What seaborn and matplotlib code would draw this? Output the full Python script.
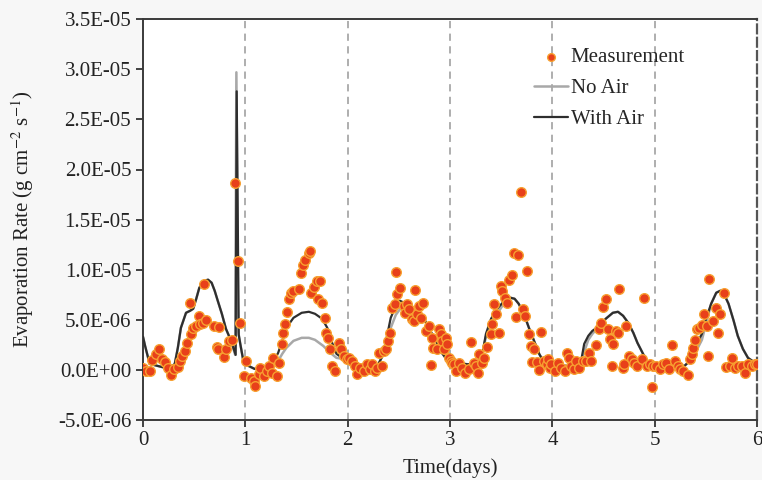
import numpy as np
import pandas as pd
import seaborn as sns
import matplotlib.pyplot as plt
from matplotlib.ticker import FuncFormatter

# values in 1E-06 g cm-2 s-1, time in days
meas_day = [0.0, 0.03, 0.065, 0.09, 0.13, 0.16, 0.19, 0.21, 0.24, 0.27, 0.30, 0.34, 0.36, 0.38, 0.41, 0.43,
            0.46, 0.47, 0.49, 0.52, 0.55, 0.56, 0.59, 0.60, 0.62, 0.69, 0.72, 0.73, 0.74, 0.79, 0.81, 0.84,
            0.87, 0.90, 0.93, 0.945,
            0.99, 1.01, 1.05, 1.08, 1.09, 1.13, 1.14, 1.18, 1.21, 1.23, 1.26, 1.27, 1.31, 1.33, 1.36, 1.37,
            1.39, 1.41, 1.43, 1.45, 1.47, 1.52, 1.54, 1.56, 1.58, 1.62, 1.63, 1.64, 1.67, 1.70, 1.73, 1.71,
            1.75, 1.78, 1.79, 1.81, 1.83, 1.85, 1.88, 1.91, 1.93, 1.96, 1.99,
            2.01, 2.04, 2.07, 2.09, 2.12, 2.16, 2.19, 2.22, 2.24, 2.27, 2.29, 2.31, 2.33, 2.35, 2.37, 2.39,
            2.41, 2.43, 2.46, 2.47, 2.48, 2.51, 2.55, 2.56, 2.58, 2.60, 2.63, 2.65, 2.66, 2.68, 2.70, 2.72,
            2.74, 2.76, 2.79, 2.81, 2.82, 2.83, 2.87, 2.89, 2.91, 2.92, 2.94, 2.96, 2.97, 2.99,
            3.01, 3.02, 3.04, 3.06, 3.09, 3.12, 3.15, 3.18, 3.20, 3.23, 3.25, 3.27, 3.28, 3.31, 3.33, 3.36,
            3.40, 3.41, 3.43, 3.45, 3.48, 3.50, 3.51, 3.54, 3.56, 3.58, 3.60, 3.62, 3.64, 3.66, 3.69, 3.71,
            3.73, 3.75, 3.77, 3.79, 3.80, 3.82, 3.85, 3.87, 3.89, 3.92, 3.95, 3.96, 3.98, 3.99,
            4.02, 4.05, 4.08, 4.12, 4.14, 4.16, 4.18, 4.21, 4.23, 4.26, 4.30, 4.33, 4.36, 4.38, 4.43, 4.45,
            4.47, 4.49, 4.52, 4.54, 4.56, 4.58, 4.59, 4.62, 4.64, 4.65, 4.69, 4.70, 4.72, 4.75, 4.78, 4.80,
            4.83, 4.87, 4.89, 4.92, 4.95, 4.97, 4.98,
            5.01, 5.05, 5.08, 5.11, 5.14, 5.17, 5.20, 5.23, 5.25, 5.28, 5.32, 5.34, 5.36, 5.37, 5.39, 5.41,
            5.43, 5.46, 5.48, 5.51, 5.52, 5.53, 5.57, 5.60, 5.62, 5.64, 5.68, 5.70, 5.73, 5.75, 5.78, 5.81,
            5.85, 5.88, 5.91, 5.95, 5.98, 6.0]
meas_val = [0.2, -0.1, -0.1, 1.0, 1.6, 2.1, 1.1, 0.8, 0.2, -0.5, 0.1, 0.3, 0.9, 1.4, 1.9, 2.7,
            6.7, 3.6, 4.2, 4.4, 5.4, 4.6, 4.7, 8.6, 5.0, 4.4, 2.3, 2.1, 4.3, 1.3, 2.1, 2.9,
            3.0, 18.7, 10.9, 4.7,
            -0.6, 0.9, -0.8, -1.1, -1.6, -0.4, 0.2, -0.6, -0.1, 0.4, -0.3, 1.2, -0.6, 0.7, 2.6, 3.7,
            4.6, 5.8, 7.1, 7.7, 7.9, 8.1, 9.7, 10.5, 11.0, 11.7, 11.9, 7.7, 8.3, 8.9, 8.9, 7.1,
            6.7, 5.2, 3.7, 3.2, 2.1, 0.4, -0.1, 2.7, 2.1, 1.4, 1.1,
            1.2, 0.9, 0.4, -0.4, 0.2, -0.1, 0.6, 0.1, 0.6, -0.1, 0.2, 1.7, 0.4, 1.9, 2.1, 2.9,
            3.7, 6.2, 6.6, 9.8, 7.6, 8.2, 6.4, 5.7, 6.6, 6.1, 5.1, 4.9, 8.0, 5.6, 6.4, 5.2,
            6.7, 3.9, 4.4, 0.5, 3.2, 2.2, 2.1, 4.1, 3.6, 2.9, 2.1, 3.2, 2.6, 1.2,
            0.9, 0.7, 0.6, -0.1, 0.7, 0.2, -0.3, 0.1, 2.8, 0.7, 0.4, -0.3, 1.6, 0.7, 1.2, 2.3,
            3.6, 4.6, 6.6, 5.6, 3.7, 8.4, 7.9, 7.2, 6.7, 9.0, 9.5, 11.7, 5.3, 11.5, 17.8, 6.1,
            5.4, 9.9, 3.6, 2.4, 0.8, 2.1, 0.8, 0.0, 3.8, 0.9, 0.6, 1.1, 0.2, 0.6,
            -0.1, 0.7, 0.2, -0.1, 1.7, 1.2, 0.4, 0.1, 0.9, 0.2, 0.9, 0.9, 1.7, 0.9, 2.5, 4.1,
            4.7, 6.3, 7.1, 4.1, 3.1, 0.4, 2.6, 3.9, 3.7, 8.1, 0.2, 0.6, 4.4, 1.4, 1.1, 0.7,
            0.4, 1.1, 7.2, 0.4, 0.6, -1.7, 0.4,
            0.4, 0.1, 0.6, 0.7, 0.1, 2.5, 0.9, 0.4, 0.1, -0.1, -0.5, 1.1, 1.6, 2.2, 3.0, 4.1,
            4.2, 4.5, 5.6, 4.4, 1.4, 9.1, 4.9, 6.2, 3.7, 5.6, 7.7, 0.3, 0.4, 1.2, 0.2, 0.4,
            0.4, -0.3, 0.6, 0.4, 0.6, 0.6]

air_day = [0.0, 0.02, 0.065, 0.18, 0.26, 0.31, 0.34, 0.37, 0.42, 0.46, 0.49, 0.52, 0.55, 0.60, 0.635,
           0.67, 0.70, 0.73, 0.77, 0.81, 0.86, 0.905, 0.915, 0.935, 0.95, 0.98, 1.03, 1.09, 1.18, 1.27,
           1.32, 1.36, 1.40, 1.47, 1.55, 1.62, 1.68, 1.75, 1.80, 1.84, 1.89, 1.96, 2.04, 2.14, 2.24,
           2.30, 2.35, 2.38, 2.42, 2.47, 2.51, 2.55, 2.60, 2.65, 2.69, 2.74, 2.79, 2.86, 2.92, 2.99,
           3.04, 3.14, 3.23, 3.28, 3.32, 3.35, 3.40, 3.46, 3.53, 3.59, 3.63, 3.67, 3.72, 3.77, 3.82,
           3.87, 3.92, 3.98, 4.04, 4.13, 4.23, 4.28, 4.31, 4.35, 4.39, 4.46, 4.52, 4.59, 4.64, 4.69,
           4.74, 4.79, 4.83, 4.88, 4.92, 4.98, 5.06, 5.20, 5.29, 5.34, 5.39, 5.46, 5.50, 5.55, 5.60,
           5.64, 5.67, 5.72, 5.77, 5.81, 5.86, 5.91, 5.98, 6.0]
air_val = [3.3, 2.4, 0.6, 0.3, 0.1, 0.6, 2.2, 4.2, 5.7, 5.9, 6.1, 7.1, 8.2, 8.9, 9.0,
           8.7, 7.9, 6.9, 5.6, 4.1, 2.9, 1.5, 27.8, 3.5, 2.6, 0.9, 0.4, 0.1, 0.2, 0.7,
           1.7, 2.9, 4.2, 5.2, 5.7, 5.8, 5.6, 5.1, 4.2, 2.9, 1.6, 1.1, 0.9, 0.4, 0.2,
           0.6, 1.6, 3.2, 5.2, 6.4, 6.9, 6.7, 6.2, 5.7, 5.7, 5.2, 4.2, 2.9, 1.7, 0.7,
           0.7, 0.6, 0.5, 0.9, 1.9, 3.6, 5.1, 6.1, 6.9, 7.2, 7.1, 6.6, 5.6, 4.2, 2.9,
           1.6, 0.7, 0.6, 0.6, 0.4, 0.4, 0.9, 2.6, 3.4, 3.9, 4.4, 5.1, 5.7, 5.8, 5.4,
           4.7, 3.7, 2.7, 1.7, 0.9, 0.6, 0.4, 0.4, 0.4, 0.9, 2.2, 3.6, 5.1, 6.6, 7.7,
           7.9, 7.7, 6.6, 4.9, 3.4, 2.1, 1.2, 0.7, 0.6]

noair_day = [0.0, 0.02, 0.065, 0.18, 0.26, 0.31, 0.34, 0.37, 0.42, 0.46, 0.49, 0.52, 0.55, 0.60, 0.635,
             0.67, 0.70, 0.73, 0.77, 0.81, 0.86, 0.90, 0.912, 0.93, 0.95, 0.98, 1.03, 1.09, 1.18, 1.27,
             1.32, 1.36, 1.40, 1.47, 1.55, 1.62, 1.68, 1.76, 1.83, 1.89, 1.96, 2.04, 2.14, 2.24,
             2.30, 2.35, 2.38, 2.42, 2.47, 2.52, 2.55, 2.60, 2.65, 2.69, 2.74, 2.79, 2.86, 2.92, 2.99,
             3.04, 3.14, 3.23, 3.28, 3.32, 3.35, 3.40, 3.46, 3.53, 3.59, 3.63, 3.67, 3.72, 3.77, 3.82,
             3.87, 3.92, 3.98, 4.04, 4.13, 4.23, 4.28, 4.31, 4.35, 4.39, 4.46, 4.52, 4.59, 4.64, 4.69,
             4.74, 4.79, 4.83, 4.88, 4.92, 4.98, 5.06, 5.20, 5.29, 5.34, 5.39, 5.46, 5.50, 5.55, 5.60,
             5.64, 5.67, 5.72, 5.77, 5.81, 5.86, 5.91, 5.98, 6.0]
noair_val = [3.3, 2.4, 0.6, 0.3, 0.1, 0.6, 2.2, 4.2, 5.7, 5.9, 6.1, 7.1, 8.2, 8.9, 9.0,
             8.7, 7.9, 6.9, 5.6, 4.1, 2.9, 1.5, 29.7, 3.8, 2.6, 0.9, 0.4, 0.1, 0.2, 0.7,
             0.9, 1.6, 2.2, 2.9, 3.2, 3.2, 3.0, 2.4, 1.7, 1.2, 1.1, 0.9, 0.4, 0.2,
             0.6, 1.6, 3.0, 4.2, 5.5, 6.2, 6.3, 6.0, 5.7, 5.7, 5.2, 4.2, 2.9, 1.7, 0.7,
             0.7, 0.6, 0.5, 0.9, 1.9, 3.3, 4.3, 5.6, 6.7, 7.2, 7.1, 6.6, 5.6, 4.2, 2.9,
             1.6, 0.7, 0.6, 0.6, 0.4, 0.4, 0.9, 1.8, 3.0, 3.6, 4.4, 5.1, 5.7, 5.8, 5.4,
             4.7, 3.7, 2.7, 1.7, 0.9, 0.6, 0.4, 0.4, 0.4, 0.9, 1.6, 3.0, 4.6, 6.6, 7.7,
             7.9, 7.7, 6.6, 4.9, 3.4, 2.1, 1.2, 0.7, 0.6]

scale = 1e-6
meas = pd.DataFrame({'day': meas_day, 'rate': np.array(meas_val) * scale})
air = pd.DataFrame({'day': air_day, 'rate': np.array(air_val) * scale})
noair = pd.DataFrame({'day': noair_day, 'rate': np.array(noair_val) * scale})

sns.set_style('white')
plt.rcParams['font.family'] = ['Liberation Serif', 'DejaVu Serif']
plt.rcParams['mathtext.fontset'] = 'stix'

fig = plt.figure(figsize=(7.62, 4.8), dpi=100, facecolor='#f7f7f7')
ax = fig.add_axes([0.1877, 0.125, 0.806, 0.835])
ax.set_facecolor('white')

# dashed day separators
for d in range(1, 6):
    ax.axvline(d, color='#a8a8a8', lw=1.3, ls=(0, (4, 3)), zorder=1)

sns.lineplot(data=noair, x='day', y='rate', ax=ax, color='#a8a8a8', lw=1.8,
             estimator=None, sort=False, label='No Air', zorder=2)
sns.lineplot(data=air, x='day', y='rate', ax=ax, color='#2e2e2e', lw=1.6,
             estimator=None, sort=False, label='With Air', zorder=3)
sns.scatterplot(data=meas, x='day', y='rate', ax=ax, color='#e8401a', edgecolor='#f7a030',
                linewidth=1.0, s=48, label='Measurement', zorder=4)

ax.set_xlim(0, 6)
ax.set_ylim(-5e-6, 3.5e-5)
ax.set_xticks(range(0, 7))
ax.set_yticks(np.arange(-5e-6, 3.6e-5, 5e-6))
ax.yaxis.set_major_formatter(FuncFormatter(lambda v, p: f'{v:.1E}'))
ax.tick_params(axis='both', labelsize=15, colors='#222222', direction='out', length=5,
               width=1.2, left=True, bottom=True)
ax.tick_params(axis='x', pad=3)

for side in ['left', 'top', 'bottom']:
    ax.spines[side].set_color('#3a3a3a')
    ax.spines[side].set_linewidth(1.4)
ax.spines['right'].set_color('#555555')
ax.spines['right'].set_linewidth(1.6)
ax.spines['right'].set_linestyle((0, (4, 2)))

ax.set_ylabel('Evaporation Rate (g cm$^{-2}$ s$^{-1}$)', fontsize=15, color='#222222')
ax.yaxis.set_label_coords(-0.175, 0.5)
ax.set_xlabel('Time(days)', fontsize=15, color='#222222')
ax.xaxis.set_label_coords(0.5, -0.095)

h, l = ax.get_legend_handles_labels()
order = [l.index('Measurement'), l.index('No Air'), l.index('With Air')]
ax.legend([h[i] for i in order], [l[i] for i in order], loc='upper left',
          bbox_to_anchor=(0.62, 0.955), frameon=False, fontsize=15, handlelength=1.6,
          handletextpad=0.15, labelspacing=0.55, borderpad=0, markerscale=0.8)

fig.savefig('out.png', dpi=100, facecolor=fig.get_facecolor())
